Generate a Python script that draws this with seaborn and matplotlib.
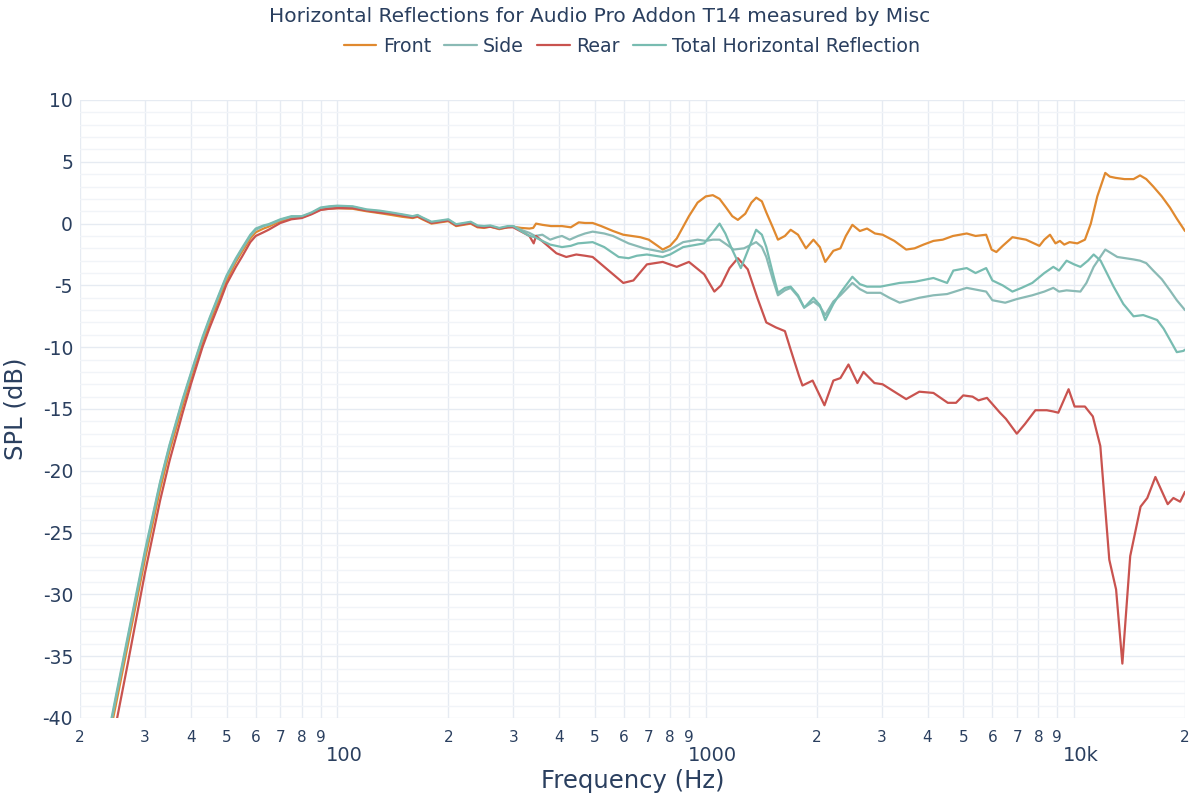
import numpy as np
import pandas as pd
import seaborn as sns
import matplotlib
matplotlib.use('Agg')
from matplotlib import pyplot as plt
from matplotlib import transforms

# --- data (frequency in Hz, level in dB) ---
front_freq = [24, 25, 27, 30, 33, 35, 38, 40, 43, 45, 48, 50, 53, 55, 58, 60, 63, 65, 70, 75,
              80, 85, 90, 95, 100, 110, 120, 130, 140, 150, 160, 165, 170, 180, 190, 200, 210,
              220, 230, 240, 250, 260, 275, 290, 300, 315, 332, 340, 346, 360, 380, 407, 430,
              452, 470, 493, 520, 560, 597, 630, 664, 700, 740, 764, 800, 834, 870, 900, 950,
              1000, 1045, 1090, 1135, 1180, 1222, 1280, 1330, 1371, 1420, 1460, 1520, 1570,
              1640, 1700, 1780, 1870, 1960, 2040, 2110, 2220, 2320, 2400, 2500, 2620, 2740,
              2880, 3020, 3250, 3500, 3690, 3900, 4150, 4400, 4690, 5110, 5400, 5770, 5970,
              6150, 6400, 6800, 7400, 8050, 8300, 8600, 8900, 9150, 9400, 9720, 10200, 10700,
              11100, 11560, 12150, 12500, 12960, 13700, 14500, 15100, 15700, 16400, 17300,
              18200, 19000, 20000]
front_db = [-41.6, -39.0, -34.0, -27.2, -21.5, -18.4, -14.7, -12.5, -9.6, -8.0, -5.9, -4.6, -3.1,
            -2.3, -1.2, -0.7, -0.4, -0.25, 0.2, 0.45, 0.5, 0.8, 1.15, 1.2, 1.25, 1.2, 1.0, 0.85,
            0.7, 0.55, 0.45, 0.55, 0.35, 0.0, 0.1, 0.2, -0.2, -0.1, 0.0, -0.3, -0.35, -0.25,
            -0.45, -0.3, -0.25, -0.35, -0.4, -0.35, 0.0, -0.1, -0.2, -0.2, -0.3, 0.1, 0.05,
            0.05, -0.2, -0.6, -0.9, -1.0, -1.1, -1.3, -1.8, -2.1, -1.8, -1.2, -0.2, 0.6, 1.7,
            2.2, 2.3, 2.0, 1.3, 0.6, 0.3, 0.8, 1.7, 2.1, 1.8, 0.9, -0.3, -1.3, -1.0, -0.5, -0.9,
            -2.0, -1.3, -1.9, -3.1, -2.2, -2.0, -1.0, -0.1, -0.6, -0.4, -0.8, -0.9, -1.4, -2.1,
            -2.0, -1.7, -1.4, -1.3, -1.0, -0.8, -1.0, -0.9, -2.1, -2.3, -1.8, -1.1, -1.3, -1.8,
            -1.3, -0.9, -1.6, -1.4, -1.7, -1.5, -1.6, -1.3, 0.0, 2.2, 4.1, 3.8, 3.7, 3.6, 3.6,
            3.9, 3.6, 3.0, 2.2, 1.3, 0.4, -0.6]

side_freq = [24, 25, 27, 30, 33, 35, 38, 40, 43, 45, 48, 50, 53, 55, 58, 60, 63, 65, 70, 75,
             80, 85, 90, 95, 100, 110, 120, 130, 140, 150, 160, 165, 170, 180, 190, 200, 210,
             220, 230, 240, 250, 260, 275, 290, 300, 315, 332, 344, 360, 378, 395, 407, 427,
             450, 470, 493, 530, 560, 617, 680, 764, 800, 868, 950, 1000, 1045, 1090, 1140,
             1190, 1270, 1370, 1420, 1460, 1520, 1570, 1640, 1700, 1780, 1850, 1960, 2040,
             2110, 2220, 2320, 2500, 2620, 2740, 2980, 3150, 3360, 3800, 4150, 4520, 5110,
             5770, 6000, 6500, 7000, 7700, 8300, 8780, 9100, 9540, 10400, 10800, 11300, 12150,
             13100, 14500, 15100, 15700, 16400, 17300, 18200, 19000, 20000]
side_db = [-41.2, -38.5, -33.5, -26.7, -21.0, -18.0, -14.3, -12.2, -9.3, -7.7, -5.6, -4.3, -2.9,
           -2.1, -1.0, -0.5, -0.2, -0.1, 0.3, 0.55, 0.55, 0.85, 1.25, 1.35, 1.4, 1.35, 1.1, 1.0,
           0.85, 0.7, 0.55, 0.65, 0.45, 0.1, 0.2, 0.3, -0.1, 0.0, 0.1, -0.2, -0.25, -0.2, -0.4,
           -0.25, -0.2, -0.5, -0.75, -1.0, -0.9, -1.3, -1.1, -1.0, -1.3, -1.0, -0.8, -0.65,
           -0.8, -1.0, -1.6, -2.0, -2.3, -2.1, -1.5, -1.3, -1.4, -1.3, -1.3, -1.7, -2.1, -2.0,
           -1.5, -1.9, -2.7, -4.5, -5.8, -5.4, -5.2, -5.9, -6.8, -6.3, -6.7, -7.4, -6.3, -5.8,
           -4.8, -5.3, -5.6, -5.6, -6.0, -6.4, -6.0, -5.8, -5.7, -5.2, -5.5, -6.2, -6.4, -6.1,
           -5.8, -5.5, -5.2, -5.5, -5.4, -5.5, -4.8, -3.5, -2.1, -2.7, -2.9, -3.0, -3.2, -3.8,
           -4.5, -5.4, -6.2, -7.0]

rear_freq = [24, 25, 27, 30, 33, 35, 38, 40, 43, 45, 48, 50, 53, 55, 58, 60, 63, 65, 70, 75,
             80, 85, 90, 95, 100, 110, 120, 130, 140, 150, 160, 165, 170, 180, 190, 200, 210,
             220, 230, 240, 250, 260, 275, 290, 300, 318, 332, 341, 346, 369, 393, 418, 445,
             470, 493, 540, 597, 636, 692, 764, 834, 900, 990, 1055, 1100, 1160, 1222, 1300,
             1380, 1460, 1550, 1640, 1700, 1790, 1830, 1950, 2100, 2220, 2320, 2440, 2580,
             2680, 2870, 3020, 3250, 3500, 3800, 4150, 4540, 4780, 5000, 5300, 5500, 5800,
             6290, 6530, 6990, 7360, 7850, 8430, 8780, 9060, 9660, 10030, 10700, 11240, 11780,
             12460, 13000, 13520, 14200, 15150, 15800, 16620, 17950, 18600, 19400, 20000]
rear_db = [-43.5, -40.6, -35.5, -28.3, -22.4, -19.2, -15.3, -13.0, -10.0, -8.4, -6.3, -4.9, -3.5,
           -2.7, -1.5, -1.0, -0.7, -0.5, 0.05, 0.35, 0.45, 0.75, 1.1, 1.2, 1.25, 1.25, 1.05, 0.9,
           0.8, 0.65, 0.5, 0.6, 0.4, 0.05, 0.15, 0.25, -0.15, -0.05, 0.05, -0.25, -0.3, -0.25,
           -0.4, -0.3, -0.3, -0.7, -1.0, -1.6, -1.0, -1.7, -2.4, -2.7, -2.5, -2.6, -2.7, -3.7,
           -4.8, -4.6, -3.3, -3.1, -3.5, -3.1, -4.1, -5.5, -5.0, -3.6, -2.8, -3.7, -6.0, -8.0,
           -8.4, -8.7, -10.2, -12.3, -13.1, -12.7, -14.7, -12.7, -12.5, -11.4, -12.9, -12.0,
           -12.9, -13.0, -13.6, -14.2, -13.6, -13.7, -14.5, -14.5, -13.9, -14.0, -14.3, -14.1,
           -15.3, -15.8, -17.0, -16.2, -15.1, -15.1, -15.2, -15.3, -13.4, -14.8, -14.8, -15.6,
           -18.0, -27.2, -29.6, -35.6, -26.9, -22.9, -22.2, -20.5, -22.7, -22.2, -22.5, -21.7]

total_freq = [24, 25, 27, 30, 33, 35, 38, 40, 43, 45, 48, 50, 53, 55, 58, 60, 63, 65, 70, 75,
              80, 85, 90, 95, 100, 110, 120, 130, 140, 150, 160, 165, 170, 180, 190, 200, 210,
              220, 230, 240, 250, 260, 275, 290, 300, 315, 332, 344, 360, 378, 407, 430, 450,
              493, 530, 580, 617, 650, 692, 764, 800, 868, 990, 1040, 1090, 1130, 1175, 1245,
              1300, 1370, 1420, 1460, 1520, 1570, 1640, 1700, 1780, 1850, 1960, 2040, 2110,
              2220, 2320, 2500, 2620, 2740, 2980, 3360, 3700, 4150, 4520, 4700, 5110, 5400,
              5770, 6000, 6400, 6800, 7200, 7700, 8300, 8780, 9100, 9540, 10000, 10400, 10900,
              11300, 11800, 12800, 13600, 14500, 15400, 16100, 16800, 17500, 18200, 19000,
              19800, 20000]
total_db = [-41.0, -38.3, -33.3, -26.5, -20.9, -17.9, -14.2, -12.1, -9.2, -7.6, -5.5, -4.2, -2.8,
            -2.0, -0.9, -0.4, -0.15, -0.05, 0.35, 0.6, 0.6, 0.9, 1.3, 1.4, 1.45, 1.4, 1.15,
            1.05, 0.9, 0.75, 0.6, 0.7, 0.5, 0.15, 0.25, 0.35, -0.05, 0.05, 0.15, -0.15, -0.2,
            -0.15, -0.35, -0.2, -0.2, -0.6, -1.0, -1.1, -1.4, -1.7, -1.9, -1.8, -1.6, -1.5,
            -1.9, -2.7, -2.8, -2.6, -2.5, -2.7, -2.5, -1.9, -1.6, -0.8, 0.0, -0.8, -2.0, -3.6,
            -2.2, -0.5, -0.9, -1.9, -4.0, -5.6, -5.2, -5.1, -5.8, -6.8, -6.0, -6.6, -7.8, -6.5,
            -5.6, -4.3, -4.9, -5.1, -5.1, -4.8, -4.7, -4.4, -4.8, -3.8, -3.6, -4.0, -3.6, -4.6,
            -5.0, -5.5, -5.2, -4.8, -4.0, -3.5, -3.8, -3.0, -3.3, -3.5, -3.0, -2.5, -3.0, -5.1,
            -6.5, -7.5, -7.4, -7.6, -7.8, -8.5, -9.4, -10.4, -10.3, -10.2]

series_names = ['Front', 'Side', 'Rear', 'Total Horizontal Reflection']
series_colors = ['#e0892f', '#8abab5', '#c9534f', '#78bcb1']

minor_ticks = [20, 30, 40, 50, 60, 70, 80, 90, 200, 300, 400, 500, 600, 700, 800, 900,
               2000, 3000, 4000, 5000, 6000, 7000, 8000, 9000, 20000]
minor_labels = ['2', '3', '4', '5', '6', '7', '8', '9', '2', '3', '4', '5', '6', '7', '8', '9',
                '2', '3', '4', '5', '6', '7', '8', '9', '2']
major_ticks = [100, 1000, 10000]
major_labels = ['100', '1000', '10k']

frames = []
for name, f, v in zip(series_names,
                      [front_freq, side_freq, rear_freq, total_freq],
                      [front_db, side_db, rear_db, total_db]):
    frames.append(pd.DataFrame({'Frequency': f, 'SPL': v, 'Curve': name}))
data = pd.concat(frames, ignore_index=True)

sns.set_style('white')
plt.rcParams['font.family'] = ['DejaVu Sans']
text_color = '#2a3f5f'

fig = plt.figure(figsize=(12, 8), dpi=100)
ax = fig.add_axes([80 / 1200, 1 - 718 / 800, 1105 / 1200, 618 / 800])

sns.lineplot(data=data, x='Frequency', y='SPL', hue='Curve', hue_order=series_names,
             palette=dict(zip(series_names, series_colors)), linewidth=1.6, ax=ax,
             estimator=None, sort=False, legend=True)

ax.set_xscale('log')
ax.set_xlim(20, 20000)
ax.set_ylim(-40, 10)

ax.set_xticks(major_ticks, major_labels)
ax.set_xticks(minor_ticks, minor_labels, minor=True)
ax.set_yticks(np.arange(-40, 11, 5))
ax.set_yticks(np.arange(-40, 11, 1), minor=True)
ax.set_yticklabels([str(int(t)) for t in np.arange(-40, 11, 5)])

ax.tick_params(axis='x', which='major', length=0, pad=20, labelsize=14, labelcolor=text_color)
ax.tick_params(axis='x', which='minor', length=0, pad=8.5, labelsize=11, labelcolor=text_color)
ax.tick_params(axis='y', which='major', length=0, pad=5, labelsize=13.5, labelcolor=text_color)
ax.tick_params(axis='y', which='minor', length=0)

offset = transforms.ScaledTranslation(7 / 100, 0, fig.dpi_scale_trans)
for lbl in ax.get_xticklabels():
    lbl.set_transform(lbl.get_transform() + offset)

ax.grid(which='major', axis='both', color='#e6ebf2', linewidth=1)
ax.grid(which='minor', axis='x', color='#e6ebf2', linewidth=1)
ax.grid(which='minor', axis='y', color='#f1f4f8', linewidth=1)
ax.set_axisbelow(True)
for s in ax.spines.values():
    s.set_visible(False)

ax.set_xlabel('Frequency (Hz)', fontsize=17.5, color=text_color, labelpad=3)
ax.set_ylabel('SPL (dB)', fontsize=17.5, color=text_color, labelpad=11)

handles, labels = ax.get_legend_handles_labels()
ax.get_legend().remove()
fig.legend(handles, labels, loc='center', ncol=4, bbox_to_anchor=(632 / 1200, 1 - 46 / 800),
           frameon=False, fontsize=13.7, handlelength=1.7, handletextpad=0.35,
           columnspacing=0.7, labelcolor=text_color)
fig.text(600 / 1200, 1 - 16 / 800, 'Horizontal Reflections for Audio Pro Addon T14 measured by Misc',
         ha='center', va='center', fontsize=14.5, color=text_color)

fig.savefig('out.png', dpi=100)
